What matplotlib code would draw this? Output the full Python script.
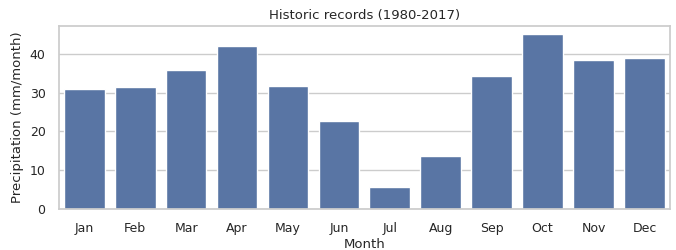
import matplotlib
matplotlib.use("Agg")
import matplotlib.pyplot as plt
import seaborn as sns

months = ["Jan", "Feb", "Mar", "Apr", "May", "Jun",
          "Jul", "Aug", "Sep", "Oct", "Nov", "Dec"]
precip = [30.9, 31.4, 36.0, 42.0, 31.8, 22.8, 5.7, 13.7, 34.3, 45.1, 38.4, 38.9]

sns.set_theme(style="whitegrid")

fig, ax = plt.subplots(figsize=(6.76, 2.5), dpi=100)
sns.barplot(x=months, y=precip, color="#4c72b0", ax=ax)
ax.set_title("Historic records (1980-2017)", fontsize=9.5, pad=5)
ax.set_xlabel("Month", fontsize=9.5, labelpad=2)
ax.set_ylabel("Precipitation (mm/month)", fontsize=9.5)
ax.tick_params(labelsize=9)

fig.subplots_adjust(left=0.087, right=0.991, bottom=0.165, top=0.897)
fig.savefig("out.png")
